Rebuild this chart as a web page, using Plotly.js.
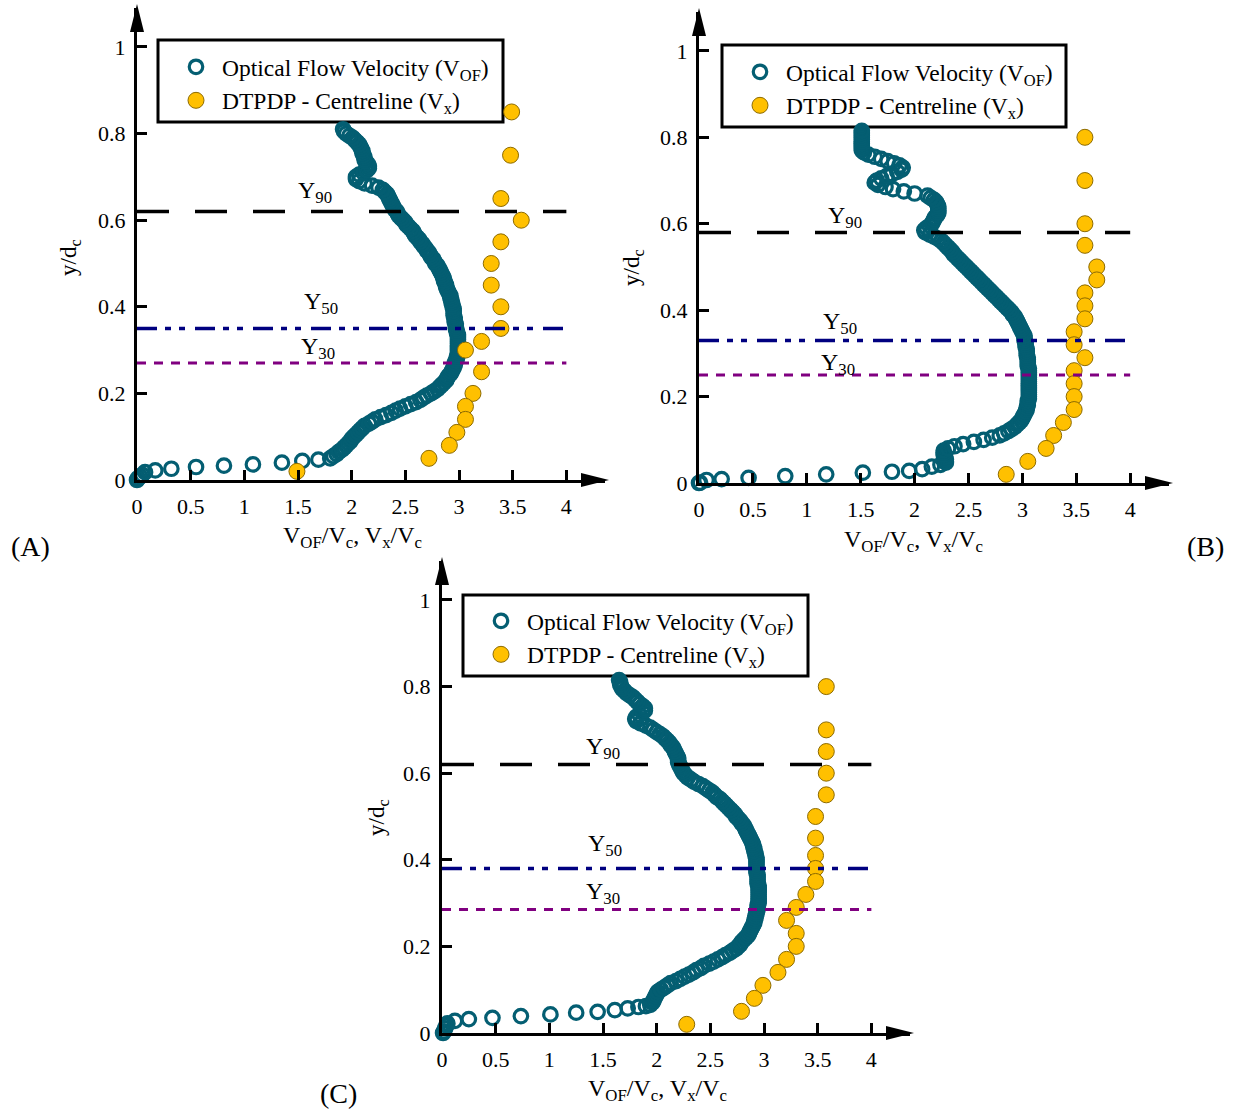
<!DOCTYPE html>
<html><head><meta charset="utf-8">
<script src="https://cdn.plot.ly/plotly-3.0.1.min.js"></script>
<style>html,body{margin:0;padding:0;background:#fff}#chart{width:1235px;height:1110px}</style>
</head><body><div id="chart"></div><script>
// ---------- DATA ----------
const xTickVals = [0,0.5,1,1.5,2,2.5,3,3.5,4];
const xTickText = ['0','0.5','1','1.5','2','2.5','3','3.5','4'];
const yTickVals = [0,0.2,0.4,0.6,0.8,1];
const yTickText = ['0','0.2','0.4','0.6','0.8','1'];
const panelLabels = ['(A)','(B)','(C)'];
const seriesNames = ['Optical Flow Velocity (V<sub>OF</sub>)','DTPDP - Centreline (V<sub>x</sub>)'];
const refNames = ['Y<sub>90</sub>','Y<sub>50</sub>','Y<sub>30</sub>'];
const y90 = [0.62, 0.58, 0.62];
const y50 = [0.35, 0.33, 0.38];
const y30 = [0.27, 0.25, 0.285];

// Panel A optical flow
const ofA_y = [0.000,0.004,0.008,0.012,0.018,0.022,0.026,0.030,0.033,0.036,0.040,0.044,0.047,
0.050,0.055,0.060,0.065,0.070,0.075,0.080,0.085,0.090,0.095,0.100,0.105,0.110,0.115,0.120,0.125,0.130,0.135,0.140,0.145,
0.150,0.155,0.160,0.165,0.170,0.175,0.180,0.185,0.190,0.195,0.200,0.205,0.210,0.215,0.220,0.225,0.230,0.235,0.240,0.245,
0.250,0.255,0.260,0.265,0.270,0.275,0.280,0.285,0.290,0.295,0.300,0.305,0.310,0.315,0.320,0.325,0.330,0.335,0.340,0.345,
0.350,0.355,0.360,0.365,0.370,0.375,0.380,0.385,0.390,0.395,0.400,0.405,0.410,0.415,0.420,0.425,0.430,0.435,0.440,0.445,
0.450,0.455,0.460,0.465,0.470,0.475,0.480,0.485,0.490,0.495,0.500,0.505,0.510,0.515,0.520,0.525,0.530,0.535,0.540,0.545,
0.550,0.555,0.560,0.565,0.570,0.575,0.580,0.585,0.590,0.595,0.600,0.605,0.610,0.615,0.620,0.625,0.630,0.635,0.640,0.645,
0.650,0.655,0.660,0.665,0.670,0.675,0.680,0.685,0.690,0.695,0.700,0.705,0.710,0.715,0.720,0.725,0.730,0.735,0.740,0.745,
0.750,0.755,0.760,0.765,0.770,0.775,0.780,0.785,0.790,0.795,0.800,0.805,0.810];
const ofA_x = [0.00,0.01,0.03,0.05,0.075,0.17,0.32,0.55,0.81,1.08,1.35,1.54,1.69,
1.80,1.83,1.86,1.88,1.91,1.93,1.95,1.97,1.99,2.00,2.02,2.04,2.06,2.08,2.10,2.12,2.16,2.19,2.22,2.27,
2.32,2.37,2.41,2.45,2.50,2.55,2.60,2.64,2.67,2.70,2.74,2.77,2.80,2.82,2.84,2.86,2.88,2.89,2.90,2.92,
2.93,2.94,2.95,2.96,2.96,2.97,2.98,2.98,2.99,2.99,2.99,2.99,2.99,2.99,2.99,2.99,2.99,2.99,2.98,2.98,
2.97,2.97,2.97,2.96,2.96,2.96,2.95,2.95,2.95,2.95,2.94,2.94,2.93,2.93,2.92,2.92,2.91,2.90,2.89,2.88,
2.88,2.87,2.86,2.86,2.85,2.84,2.83,2.82,2.81,2.80,2.78,2.77,2.76,2.74,2.73,2.72,2.70,2.69,2.67,2.66,
2.64,2.63,2.61,2.59,2.58,2.57,2.55,2.53,2.51,2.50,2.48,2.46,2.44,2.43,2.42,2.40,2.39,2.38,2.37,2.36,
2.35,2.34,2.33,2.31,2.29,2.25,2.19,2.12,2.07,2.04,2.04,2.07,2.11,2.14,2.16,2.16,2.15,2.13,2.12,2.12,
2.11,2.10,2.10,2.09,2.08,2.07,2.05,2.03,2.01,1.98,1.95,1.93,1.92];
const dtA_y = [0.85,0.75,0.65,0.60,0.55,0.50,0.45,0.40,0.35,0.32,0.30,0.25,0.20,0.17,0.14,0.11,0.08,0.05,0.02];
const dtA_x = [3.49,3.48,3.39,3.58,3.39,3.30,3.30,3.39,3.39,3.21,3.06,3.21,3.13,3.06,3.06,2.98,2.91,2.72,1.49];

// Panel B optical flow
const ofB_y = [0.000,0.001,0.007,0.009,0.012,0.016,0.020,0.024,0.026,0.028,0.032,0.038,0.042,0.047,
0.050,0.055,0.060,0.065,0.070,0.075,0.080,0.085,0.090,0.095,0.100,0.105,0.110,0.115,0.120,0.125,0.130,0.135,0.140,0.145,
0.150,0.155,0.160,0.165,0.170,0.175,0.180,0.185,0.190,0.195,0.200,0.205,0.210,0.215,0.220,0.225,0.230,0.235,0.240,0.245,
0.250,0.255,0.260,0.265,0.270,0.275,0.280,0.285,0.290,0.295,0.300,0.305,0.310,0.315,0.320,0.325,0.330,0.335,0.340,0.345,
0.350,0.355,0.360,0.365,0.370,0.375,0.380,0.385,0.390,0.395,0.400,0.405,0.410,0.415,0.420,0.425,0.430,0.435,0.440,0.445,
0.450,0.455,0.460,0.465,0.470,0.475,0.480,0.485,0.490,0.495,0.500,0.505,0.510,0.515,0.520,0.525,0.530,0.535,0.540,0.545,
0.550,0.555,0.560,0.565,0.570,0.575,0.580,0.585,0.590,0.595,0.600,0.605,0.610,0.615,0.620,0.625,0.630,0.635,0.640,0.645,
0.650,0.655,0.660,0.665,0.670,0.675,0.680,0.685,0.690,0.695,0.700,0.705,0.710,0.715,0.720,0.725,0.730,0.735,0.740,0.745,
0.750,0.755,0.760,0.765,0.770,0.775,0.780,0.785,0.790,0.795,0.800,0.805,0.810,0.815];
const ofB_x = [0.00,0.01,0.07,0.21,0.46,0.80,1.18,1.52,1.79,1.95,2.07,2.16,2.24,2.29,
2.29,2.29,2.28,2.27,2.27,2.27,2.31,2.37,2.45,2.55,2.64,2.72,2.79,2.83,2.87,2.90,2.93,2.95,2.97,2.99,
3.00,3.01,3.02,3.03,3.04,3.04,3.05,3.05,3.05,3.06,3.06,3.06,3.06,3.06,3.06,3.06,3.06,3.06,3.06,3.06,
3.06,3.06,3.06,3.06,3.05,3.05,3.05,3.05,3.05,3.04,3.04,3.04,3.04,3.03,3.03,3.03,3.02,3.02,3.02,3.01,
3.00,2.99,2.98,2.97,2.96,2.95,2.94,2.93,2.91,2.90,2.88,2.86,2.84,2.82,2.80,2.78,2.76,2.74,2.72,2.70,
2.68,2.66,2.64,2.62,2.60,2.58,2.56,2.54,2.52,2.50,2.48,2.46,2.44,2.42,2.40,2.38,2.36,2.35,2.33,2.31,
2.29,2.27,2.25,2.22,2.18,2.14,2.10,2.09,2.11,2.14,2.16,2.17,2.18,2.19,2.21,2.22,2.22,2.22,2.22,2.21,
2.20,2.18,2.15,2.12,2.00,1.90,1.80,1.73,1.66,1.63,1.65,1.69,1.74,1.79,1.84,1.88,1.89,1.86,1.81,1.75,
1.69,1.63,1.57,1.53,1.51,1.51,1.51,1.51,1.51,1.51,1.51,1.51,1.51,1.51];
const dtB_y = [0.80,0.70,0.60,0.55,0.50,0.47,0.44,0.41,0.38,0.35,0.32,0.29,0.26,0.23,0.20,0.17,0.14,0.11,0.08,0.05,0.02];
const dtB_x = [3.58,3.58,3.58,3.58,3.69,3.69,3.58,3.58,3.58,3.48,3.48,3.58,3.48,3.48,3.48,3.48,3.38,3.29,3.22,3.05,2.85];

// Panel C optical flow
const ofC_y = [0.000,0.004,0.011,0.017,0.022,0.028,0.032,0.035,0.039,0.043,0.047,0.049,0.053,0.057,0.060,0.062,
0.065,0.070,0.075,0.080,0.085,0.090,0.095,0.100,0.105,0.110,0.115,0.120,0.125,0.130,0.135,0.140,0.145,
0.150,0.155,0.160,0.165,0.170,0.175,0.180,0.185,0.190,0.195,0.200,0.205,0.210,0.215,0.220,0.225,0.230,0.235,0.240,0.245,
0.250,0.255,0.260,0.265,0.270,0.275,0.280,0.285,0.290,0.295,0.300,0.305,0.310,0.315,0.320,0.325,0.330,0.335,0.340,0.345,
0.350,0.355,0.360,0.365,0.370,0.375,0.380,0.385,0.390,0.395,0.400,0.405,0.410,0.415,0.420,0.425,0.430,0.435,0.440,0.445,
0.450,0.455,0.460,0.465,0.470,0.475,0.480,0.485,0.490,0.495,0.500,0.505,0.510,0.515,0.520,0.525,0.530,0.535,0.540,0.545,
0.550,0.555,0.560,0.565,0.570,0.575,0.580,0.585,0.590,0.595,0.600,0.605,0.610,0.615,0.620,0.625,0.630,0.635,0.640,0.645,
0.650,0.655,0.660,0.665,0.670,0.675,0.680,0.685,0.690,0.695,0.700,0.705,0.710,0.715,0.720,0.725,0.730,0.735,0.740,0.745,
0.750,0.755,0.760,0.765,0.770,0.775,0.780,0.785,0.790,0.795,0.800,0.805,0.810,0.815];
const ofC_x = [0.01,0.02,0.03,0.04,0.05,0.12,0.25,0.47,0.735,1.01,1.25,1.45,1.61,1.73,1.83,1.90,
1.94,1.96,1.97,1.98,1.99,2.00,2.01,2.04,2.07,2.10,2.13,2.18,2.22,2.26,2.30,2.34,2.37,
2.41,2.44,2.49,2.53,2.57,2.61,2.64,2.68,2.71,2.74,2.76,2.78,2.79,2.81,2.83,2.85,2.86,2.87,2.88,2.89,
2.90,2.91,2.91,2.92,2.92,2.93,2.93,2.94,2.94,2.94,2.95,2.95,2.95,2.95,2.95,2.95,2.95,2.95,2.95,2.94,
2.94,2.94,2.94,2.94,2.93,2.93,2.93,2.93,2.93,2.93,2.93,2.93,2.92,2.92,2.91,2.91,2.90,2.90,2.89,2.88,
2.87,2.86,2.85,2.84,2.83,2.82,2.81,2.79,2.78,2.76,2.74,2.73,2.71,2.69,2.67,2.65,2.63,2.61,2.59,2.56,
2.54,2.52,2.49,2.46,2.43,2.39,2.35,2.32,2.29,2.27,2.25,2.24,2.23,2.22,2.21,2.20,2.20,2.20,2.19,2.18,
2.17,2.16,2.15,2.13,2.12,2.10,2.08,2.06,2.03,2.00,1.97,1.94,1.90,1.85,1.81,1.80,1.81,1.84,1.87,1.89,
1.89,1.87,1.84,1.82,1.80,1.78,1.75,1.72,1.70,1.68,1.67,1.66,1.66,1.65];
const dtC_y = [0.80,0.70,0.65,0.60,0.55,0.50,0.45,0.41,0.38,0.35,0.32,0.29,0.26,0.23,0.20,0.17,0.14,0.11,0.08,0.05,0.02];
const dtC_x = [3.58,3.58,3.58,3.58,3.58,3.48,3.48,3.48,3.48,3.48,3.39,3.30,3.21,3.30,3.30,3.21,3.13,2.99,2.91,2.79,2.28];

// ---------- LAYOUT (pixels) ----------
const W = 1235, H = 1110;
const FONT = '"Liberation Serif", "Times New Roman", serif';
const XR = [0, 4.36], YR = [0, 1.09];
const panels = [
  {x0:137, x1:605, y0:480, y1:8,   box:[158,40,503,122], leg:[170,45], xt:[352,537], yt:[70,258],  lab:[30,546],  lbl:[[1.66,0.665],[1.71,0.409],[1.69,0.305]]},
  {x0:699, x1:1169, y0:483, y1:12, box:[722,45,1066,127], leg:[734,50], xt:[913,541], yt:[633,268], lab:[1205,546], lbl:[[1.35,0.616],[1.31,0.370],[1.29,0.275]]},
  {x0:442, x1:910, y0:1033, y1:561, box:[463,595,808,676], leg:[475,599], xt:[657,1090], yt:[378,818], lab:[338,1093], lbl:[[1.50,0.658],[1.52,0.434],[1.50,0.323]]}
];
const OFX = [ofA_x, ofB_x, ofC_x], OFY = [ofA_y, ofB_y, ofC_y];
const DTX = [dtA_x, dtB_x, dtC_x], DTY = [dtA_y, dtB_y, dtC_y];
const px = v => v / W, py = v => 1 - v / H;

const traces = [], shapes = [], annotations = [];
const layout = {
  width: W, height: H, margin: {l:0, r:0, t:0, b:0},
  paper_bgcolor: '#fff', plot_bgcolor: 'rgba(0,0,0,0)',
  font: {family: FONT, size: 22, color: '#000'},
  showlegend: true
};

panels.forEach((p, i) => {
  const s = i === 0 ? '' : String(i + 1);
  const xa = 'x' + s, ya = 'y' + s;
  const legName = 'legend' + s;
  const axCommon = {
    showgrid: false, zeroline: false, showline: true, linewidth: 3, linecolor: '#000',
    ticks: 'inside', ticklen: 10, tickwidth: 3, tickcolor: '#000', fixedrange: true,
    tickfont: {family: FONT, size: 22, color: '#000'}
  };
  layout['xaxis' + s] = Object.assign({}, axCommon, {
    domain: [px(p.x0), px(p.x1)], range: XR, anchor: ya,
    tickmode: 'array', tickvals: xTickVals, ticktext: xTickText, ticklabelstandoff: 5
  });
  layout['yaxis' + s] = Object.assign({}, axCommon, {
    domain: [py(p.y0), py(p.y1)], range: YR, anchor: xa,
    tickmode: 'array', tickvals: yTickVals, ticktext: yTickText, ticklabelstandoff: 4
  });
  layout[legName] = {
    x: px(p.leg[0]), y: py(p.leg[1]), xanchor: 'left', yanchor: 'top',
    bgcolor: 'rgba(0,0,0,0)', borderwidth: 0,
    font: {family: FONT, size: 23.5, color: '#000'}, itemsizing: 'trace', itemwidth: 42
  };
  traces.push({
    type: 'scatter', mode: 'markers', x: OFX[i], y: OFY[i], xaxis: xa, yaxis: ya,
    name: seriesNames[0], legend: legName, cliponaxis: false,
    marker: {symbol: 'circle-open', size: 13.5, color: '#045e72', line: {width: 3.2, color: '#045e72'}}
  });
  traces.push({
    type: 'scatter', mode: 'markers', x: DTX[i], y: DTY[i], xaxis: xa, yaxis: ya,
    name: seriesNames[1], legend: legName, cliponaxis: false,
    marker: {symbol: 'circle', size: 16, color: '#ffc000', line: {width: 1, color: '#8c6a00'}}
  });
  // reference lines
  shapes.push({type:'line', xref:xa, yref:ya, x0:0, x1:4, y0:y90[i], y1:y90[i],
    line:{color:'#000', width:3.5, dash:'32px,26px'}});
  shapes.push({type:'line', xref:xa, yref:ya, x0:0, x1:4, y0:y50[i], y1:y50[i],
    line:{color:'#000080', width:3.5, dash:'20px,8px,6px,8px,6px,10px'}});
  shapes.push({type:'line', xref:xa, yref:ya, x0:0, x1:4, y0:y30[i], y1:y30[i],
    line:{color:'#800080', width:3, dash:'9px,8px'}});
  // arrow heads
  const ax = p.x1, ay = p.y0;
  shapes.push({type:'path', xref:'paper', yref:'paper', fillcolor:'#000', line:{width:0},
    path:`M ${px(ax-24)},${py(ay-7)} L ${px(ax+4)},${py(ay)} L ${px(ax-24)},${py(ay+7)} Z`});
  shapes.push({type:'path', xref:'paper', yref:'paper', fillcolor:'#000', line:{width:0},
    path:`M ${px(p.x0-7)},${py(p.y1+24)} L ${px(p.x0)},${py(p.y1-4)} L ${px(p.x0+7)},${py(p.y1+24)} Z`});
  // legend box
  shapes.push({type:'rect', xref:'paper', yref:'paper', layer:'below',
    x0:px(p.box[0]), x1:px(p.box[2]), y0:py(p.box[1]), y1:py(p.box[3]),
    line:{color:'#000', width:3}, fillcolor:'rgba(0,0,0,0)'});
  // ref line labels
  refNames.forEach((t, k) => annotations.push({
    xref:xa, yref:ya, x:p.lbl[k][0], y:p.lbl[k][1], text:t, showarrow:false,
    xanchor:'center', yanchor:'middle', font:{family:FONT, size:24, color:'#000'}
  }));
  // axis titles
  annotations.push({xref:'paper', yref:'paper', x:px(p.xt[0]), y:py(p.xt[1]), showarrow:false,
    xanchor:'center', yanchor:'middle',
    text:'V<sub>OF</sub>/V<sub>c</sub>, V<sub>x</sub>/V<sub>c</sub>', font:{family:FONT, size:24, color:'#000'}});
  annotations.push({xref:'paper', yref:'paper', x:px(p.yt[0]), y:py(p.yt[1]), showarrow:false, textangle:-90,
    xanchor:'center', yanchor:'middle',
    text:'y/d<sub>c</sub>', font:{family:FONT, size:23, color:'#000'}});
  annotations.push({xref:'paper', yref:'paper', x:px(p.lab[0]), y:py(p.lab[1]), showarrow:false,
    xanchor:'center', yanchor:'middle',
    text:panelLabels[i], font:{family:FONT, size:28, color:'#000'}});
});
layout.shapes = shapes;
layout.annotations = annotations;
Plotly.newPlot('chart', traces, layout, {displayModeBar:false, staticPlot:true});
</script></body></html>
